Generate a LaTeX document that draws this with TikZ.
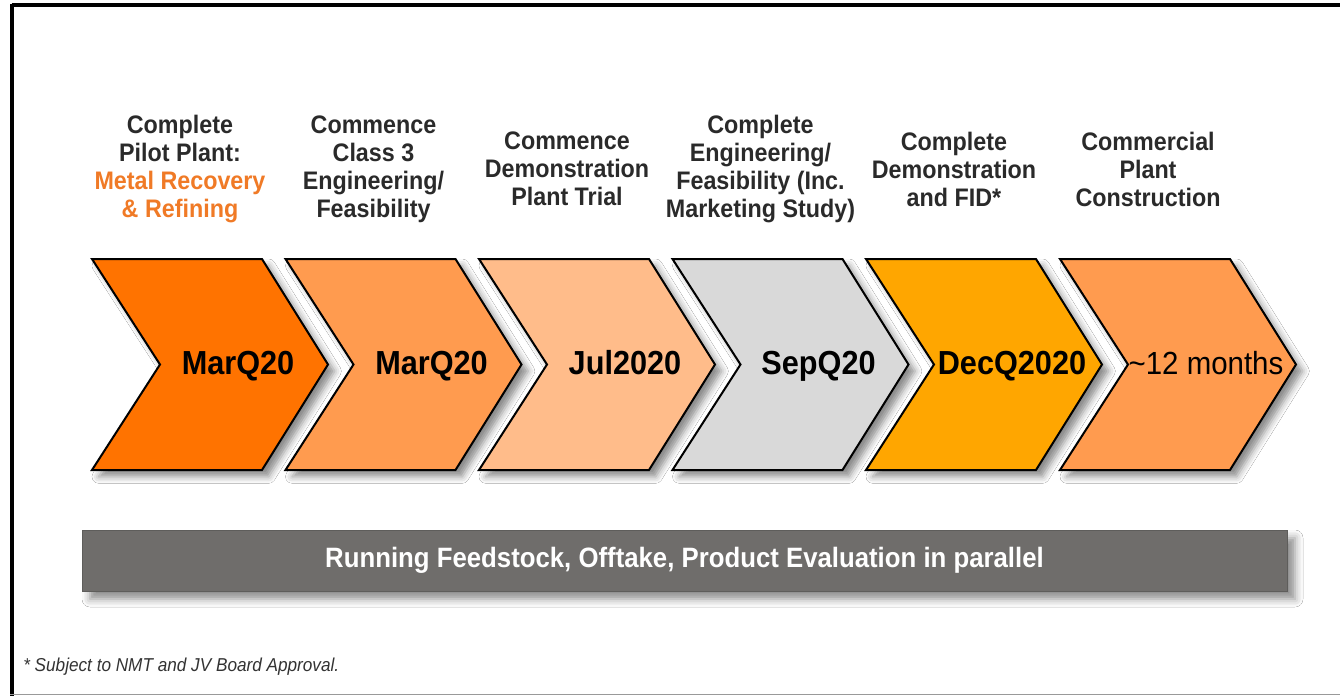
\documentclass[tikz,border=0pt]{standalone}
\usepackage{fontspec}
\setmainfont{Liberation Sans}
\newfontfamily\cfont[FakeStretch=0.92]{Liberation Sans}
\usetikzlibrary{shadows.blur}
\definecolor{cA}{HTML}{FF7300}
\definecolor{cB}{HTML}{FF9B4F}
\definecolor{cC}{HTML}{FFBC8A}
\definecolor{cD}{HTML}{D9D9D9}
\definecolor{cE}{HTML}{FFA600}
\definecolor{cF}{HTML}{FF9B4F}
\definecolor{lblgray}{HTML}{2A2A2A}
\definecolor{lblorange}{HTML}{F07A26}
\definecolor{bargray}{HTML}{6F6D6B}
\definecolor{notegray}{HTML}{333333}
\definecolor{framegray}{HTML}{999999}
\newcommand\mychevron[5]{%
  \path[chev, fill=#2] (#1,259) -- ++(170,0) -- ++(66,105.5) -- ++(-66,105.5)
    -- ++(-170,0) -- ++(68,-105.5) -- cycle;
  \node[lbl] (#3l) at (#1+88,169) {#4};
  \node[dt] (#3d) at (#1+146,374) {#5};
}
\begin{document}
\begin{tikzpicture}[x=0.75pt,y=-0.75pt,
  chev/.style={draw=black, line width=1.5pt, line join=miter,
    blur shadow={shadow xshift=5pt, shadow yshift=-5pt, shadow blur radius=5pt, shadow opacity=45}},
  lbl/.style={align=center, inner sep=0pt, text=lblgray,
    font=\cfont\bfseries\fontsize{19}{21}\selectfont},
  dt/.style={anchor=base, inner sep=0pt, text=black, font=\cfont\bfseries\fontsize{25}{28}\selectfont},
  bar/.style={fill=bargray, draw=bargray!85!black, line width=0.5pt, inner sep=0pt,
    minimum width=903.75pt, minimum height=45.75pt, text=white,
    font=\cfont\bfseries\fontsize{21}{24}\selectfont,
    blur shadow={shadow xshift=6pt, shadow yshift=-6pt, shadow blur radius=6pt, shadow opacity=45}},
  note/.style={anchor=west, inner sep=0pt, text=notegray, font=\cfont\itshape\fontsize{14}{16}\selectfont}
]
\useasboundingbox (0,0) rectangle (1340,696);
\fill[white] (0,0) rectangle (1340,696);
% frame
\draw[line width=3pt, black] (11.5,5) -- (1340,5);
\draw[line width=3pt, black] (11.5,3.5) -- (11.5,696);
\draw[line width=1.2pt, framegray] (10,694.5) -- (1340,694.5);
% chevrons
\mychevron{92}{cA}{s1}{Complete\\Pilot Plant:\\\textcolor{lblorange}{Metal Recovery}\\\textcolor{lblorange}{\& Refining}}{MarQ20}
\mychevron{285.5}{cB}{s2}{Commence\\Class 3\\Engineering/\\Feasibility}{MarQ20}
\mychevron{479}{cC}{s3}{Commence\\Demonstration\\Plant Trial}{Jul2020}
\mychevron{672.5}{cD}{s4}{Complete\\Engineering/\\Feasibility (Inc.\\Marketing Study)}{SepQ20}
\mychevron{866}{cE}{s5}{Complete\\Demonstration\\and FID*}{DecQ2020}
\mychevron{1060}{cF}{s6}{Commercial\\Plant\\Construction}{{\mdseries\fontsize{24}{28}\selectfont\textasciitilde12 months}}
% bar
\node[bar] (bar) at (684.5,560.5) {Running Feedstock, Offtake, Product Evaluation in parallel};
% footnote
\node[note] (fn) at (23,667) {* Subject to NMT and JV Board Approval.};
\end{tikzpicture}
\end{document}
